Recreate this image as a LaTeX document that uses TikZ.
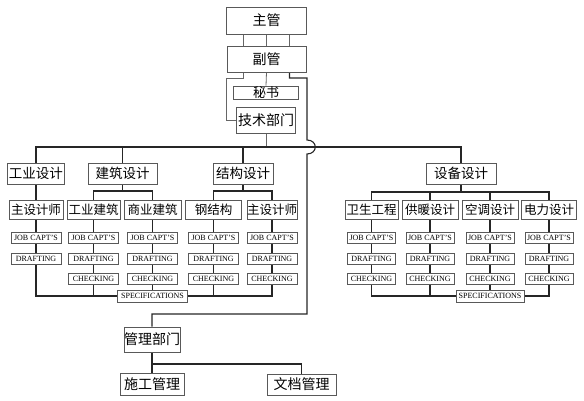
\documentclass[tikz,border=0pt]{standalone}
\usepackage{fontspec}
\setmainfont{Liberation Serif}
\newfontfamily\cjk{Noto Sans CJK SC}
\usetikzlibrary{backgrounds}
\begin{document}
\begin{tikzpicture}[x=1pt,y=-1pt,
  box/.style={draw=black!65, line width=0.8pt, fill=white, inner sep=0pt, align=center},
  cnA/.style={box, font=\cjk\fontsize{14}{14}\selectfont},
  cnB/.style={box, font=\cjk\fontsize{13.5}{14}\selectfont, minimum height=21pt},
  cnC/.style={box, font=\cjk\fontsize{12.5}{13}\selectfont, minimum height=19pt},
  en/.style={box, font=\fontsize{8}{8}\selectfont, minimum height=11pt, minimum width=50pt},
  enR/.style={en, minimum width=48pt},
  ln/.style={line width=1.1pt, draw=black!85},
  lnT/.style={line width=0.8pt, draw=black!60}]
\useasboundingbox (0,0) rectangle (584,401);
% top
\node[cnA, minimum width=80pt, minimum height=27pt] (zg) at (266.5,20.5) {主管};
\node[cnA, minimum width=79pt, minimum height=26pt] (fg) at (266.5,59) {副管};
\node[box, font=\cjk\fontsize{13}{13}\selectfont, minimum width=65pt, minimum height=13pt] (ms) at (266,92.5) {秘书};
\node[cnA, minimum width=59pt, minimum height=26pt] (js) at (266,120) {技术部门};
% row 2
\node[cnB, minimum width=57pt] (gy) at (36,173.5) {工业设计};
\node[cnB, minimum width=69pt] (jz) at (122.5,173.5) {建筑设计};
\node[cnB, minimum width=60pt] (jg) at (243,173.5) {结构设计};
\node[cnB, minimum width=70pt] (sb) at (461,173.5) {设备设计};
% row 3
\node[cnC, minimum width=54pt] (a1) at (36,209.5) {主设计师};
\node[cnC, minimum width=53pt] (a2) at (93.5,209.5) {工业建筑};
\node[cnC, minimum width=57pt] (a3) at (152.5,209.5) {商业建筑};
\node[cnC, minimum width=56pt] (a4) at (213.5,209.5) {钢结构};
\node[cnC, minimum width=50pt] (a5) at (272,209.5) {主设计师};
\node[cnC, minimum width=53pt] (b1) at (371.5,209.5) {卫生工程};
\node[cnC, minimum width=56pt] (b2) at (430,209.5) {供暖设计};
\node[cnC, minimum width=56pt] (b3) at (490,209.5) {空调设计};
\node[cnC, minimum width=55pt] (b4) at (549,209.5) {电力设计};
% small boxes
\foreach \n/\x/\s in {1/36/en,2/93.5/en,3/152.5/en,4/213.5/en,5/272/en,6/371.5/enR,7/430/enR,8/490/enR,9/549/enR}{
  \node[\s] (j\n) at (\x,237.5) {JOB CAPT'S};
  \node[\s] (d\n) at (\x,258.5) {DRAFTING};
}
\foreach \n/\x/\s in {2/93.5/en,3/152.5/en,4/213.5/en,5/272/en,6/371.5/enR,7/430/enR,8/490/enR,9/549/enR}{
  \node[\s] (c\n) at (\x,278.5) {CHECKING};
}
\node[en, minimum width=70pt, minimum height=12pt] (spL) at (152.5,296) {SPECIFICATIONS};
\node[en, minimum width=68pt, minimum height=12pt] (spR) at (490,296) {SPECIFICATIONS};
% management
\node[cnA, minimum width=56pt, minimum height=25pt] (mg) at (152,339.5) {管理部门};
\node[cnA, minimum width=64pt, minimum height=22pt] (sg) at (152,384) {施工管理};
\node[cnA, minimum width=69pt, minimum height=21pt] (wd) at (301.5,384.5) {文档管理};
% coordinates
\coordinate (k1) at (243.5,78);
\coordinate (k2) at (226,78);
\coordinate (k3) at (289.5,78);
\coordinate (k4) at (307,78);
\coordinate (h1) at (307,140);
\coordinate (h2) at (307,154);
\coordinate (k5) at (307,314);
\coordinate (bus) at (0,147);
\coordinate (r1) at (0,191);
\coordinate (r2) at (0,192);
\coordinate (r9) at (0,364);
\begin{pgfonlayer}{background}
\draw[lnT] ([xshift=-23pt]zg.south) -- ([xshift=-23pt]fg.north);
\draw[lnT] (zg.south) -- (fg.north);
\draw[lnT] ([xshift=23pt]zg.south) -- ([xshift=23pt]fg.north);
\draw[lnT] ([xshift=-23pt]fg.south) -- (k1) -- (k2) -- (k2 |- js.west) -- (js.west);
\draw[lnT] (fg.south) -- (ms.north);
\draw[ln] ([xshift=23pt]fg.south) -- (k3) -- (k4) -- (h1) .. controls (318,140) and (318,154) .. (h2) -- (k5) -- (k5 -| mg.north) -- (mg.north);
\draw[lnT] (js.south) -- (js.south |- bus);
\draw[ln] (gy.north) -- (gy.north |- bus) -- (sb.north |- bus) -- (sb.north);
\draw[ln] (jz.north |- bus) -- (jz.north);
\draw[ln] (jg.north |- bus) -- (jg.north);
\draw[ln] (gy.south) -- (a1.north);
\draw[ln] (jz.south) -- (jz.south |- r1);
\draw[ln] (a2.north) -- (a2.north |- r1) -- (a3.north |- r1) -- (a3.north);
\draw[ln] (jg.south) -- (jg.south |- r1);
\draw[ln] (a4.north) -- (a4.north |- r1) -- (a5.north |- r1) -- (a5.north);
\draw[ln] (sb.south) -- (sb.south |- r2);
\draw[ln] (b1.north) -- (b1.north |- r2) -- (b4.north |- r2) -- (b4.north);
\draw[ln] (b2.north) -- (b2.north |- r2);
\draw[ln] (b3.north) -- (b3.north |- r2);
\draw[ln] (a1.south) -- (j1.north);
\draw[ln] (a2.south) -- (j2.north);
\draw[ln] (a3.south) -- (j3.north);
\draw[ln] (a4.south) -- (j4.north);
\draw[ln] (a5.south) -- (j5.north);
\draw[ln] (b1.south) -- (j6.north);
\draw[ln] (b2.south) -- (j7.north);
\draw[ln] (b3.south) -- (j8.north);
\draw[ln] (b4.south) -- (j9.north);
\foreach \n in {1,...,9}{\draw[ln] (j\n.south) -- (d\n.north);}
\foreach \n in {2,...,9}{\draw[ln] (d\n.south) -- (c\n.north);}
\draw[ln] (d1.south) -- (d1.south |- spL) -- (spL.west);
\draw[ln] (spL.east) -- (c5.south |- spL) -- (c5.south);
\draw[ln] (c2.south) -- (c2.south |- spL);
\draw[ln] (c3.south) -- (spL.north);
\draw[ln] (c4.south) -- (c4.south |- spL);
\draw[ln] (c6.south) -- (c6.south |- spR) -- (spR.west);
\draw[ln] (spR.east) -- (c9.south |- spR) -- (c9.south);
\draw[ln] (c7.south) -- (c7.south |- spR);
\draw[ln] (c8.south) -- (spR.north);
\draw[ln] (mg.south) -- (mg.south |- r9) -- (wd.north |- r9) -- (wd.north);
\draw[ln] (mg.south |- r9) -- (sg.north);
\end{pgfonlayer}
\end{tikzpicture}
\end{document}
